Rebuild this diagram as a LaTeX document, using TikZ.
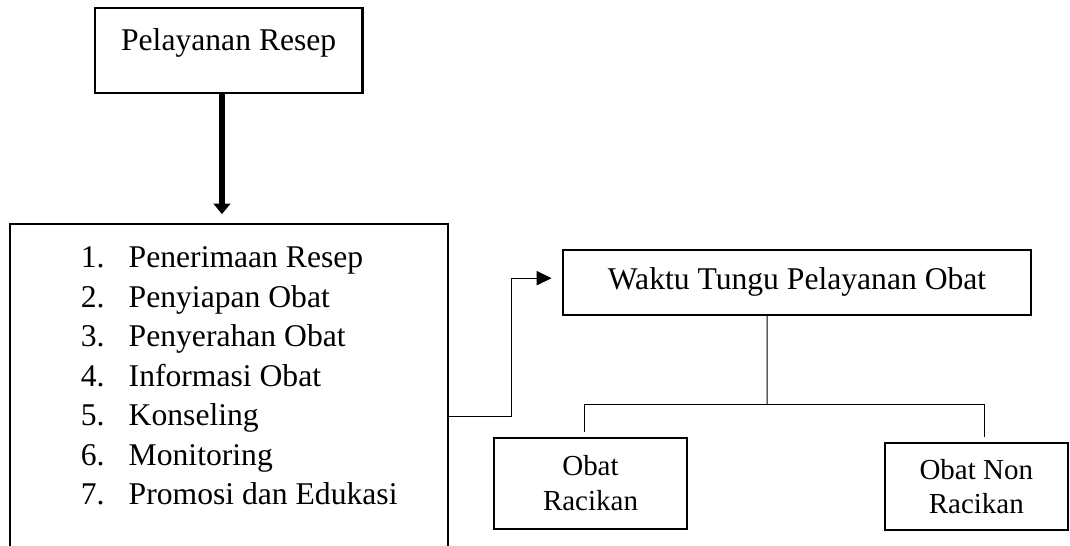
\documentclass[tikz,border=0pt]{standalone}
\usepackage{fontspec}
\setmainfont{Liberation Serif}
\usetikzlibrary{arrows.meta}
\begin{document}
\begin{tikzpicture}[font=\fontsize{12}{14.4}\selectfont,
  box/.style={draw,line width=0.8pt,inner sep=0pt,align=center},
  link/.style={line width=0.4pt},
  small/.style={font=\fontsize{11}{13.2}\selectfont}]
\useasboundingbox (0,0) rectangle (14.27,7.28);

\node[box,anchor=base,minimum width=3.57cm,text height=0.56cm,text depth=0.57cm] (resep) at (3.05,6.61) {Pelayanan Resep};
\node[box,minimum width=5.84cm,minimum height=4.59cm] (layanan) at (3.05,1.995) {};
\foreach \t [count=\i] in {Penerimaan Resep,Penyiapan Obat,Penyerahan Obat,Informasi Obat,Konseling,Monitoring,Promosi dan Edukasi}{
  \node[anchor=base west,inner sep=0pt] (num\i) at (1.07,{3.71-0.527*(\i-1)}) {\i.};
  \node[anchor=base west,inner sep=0pt] (item\i) at (1.71,{3.71-0.527*(\i-1)}) {\t};
}

\node[box,minimum width=6.24cm,minimum height=0.87cm] (waktu) at (10.63,3.515) {Waktu Tungu Pelayanan Obat};
\node[box,small,minimum width=2.57cm,minimum height=1.21cm] (racikan) at (7.875,0.835) {Obat\\Racikan};
\node[box,small,minimum width=2.44cm,minimum height=1.16cm] (nonracikan) at (13.02,0.79) {Obat Non\\Racikan};

\draw[line width=2.3pt,-{Triangle[length=0.14cm,width=0.22cm]},shorten >=0.12cm] ([xshift=-0.09cm]resep.south) -- ([xshift=-0.09cm]layanan.north);
\draw[link,-{Triangle[length=0.2cm,width=0.19cm]},shorten >=0.14cm] ([yshift=-0.265cm]layanan.east) -| ([xshift=-0.67cm,yshift=0.055cm]waktu.west) -- ([yshift=0.055cm]waktu.west);

\coordinate (fork) at (10.23,1.89);
\draw[link] ([xshift=-0.4cm]waktu.south) -- (fork);
\draw[link] (fork) -| ([xshift=-0.075cm,yshift=0.07cm]racikan.north);
\draw[link] (fork) -| ([xshift=0.11cm,yshift=0.07cm]nonracikan.north);
\end{tikzpicture}
\end{document}
